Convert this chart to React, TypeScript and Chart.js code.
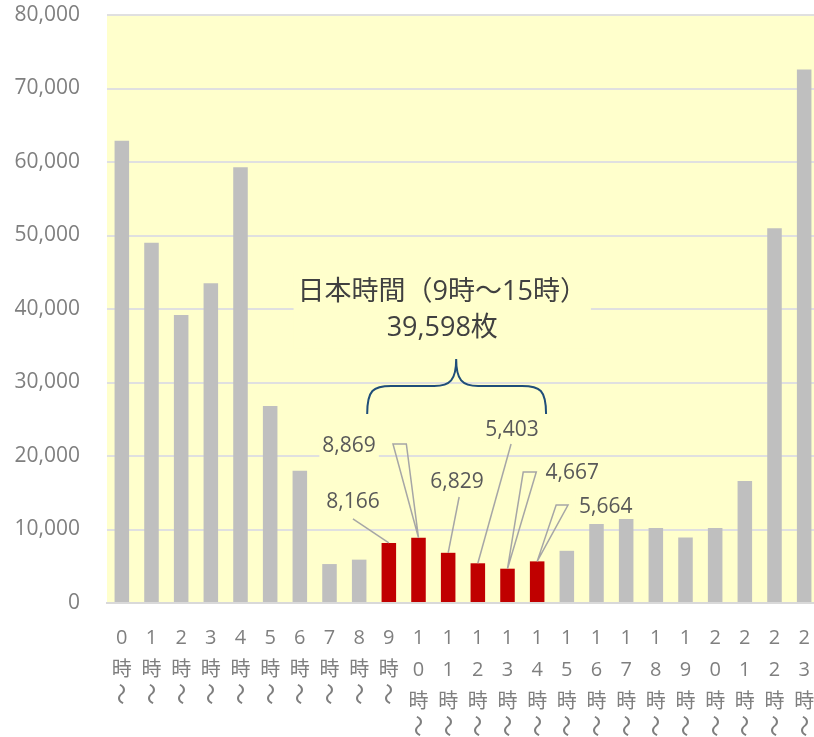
import React, { useEffect, useRef } from "react";
import { Chart, registerables } from "chart.js";

Chart.register(...registerables);

// ---- data ----
const hourLabels = ["0","1","2","3","4","5","6","7","8","9","10","11","12","13","14","15","16","17","18","19","20","21","22","23"];
const values = [62900, 49000, 39200, 43500, 59300, 26800, 18000, 5300, 5900, 8166, 8869, 6829, 5403, 4667, 5664, 7100, 10750, 11700, 10200, 8900, 10200, 16600, 51000, 72600];
const highlightHours = [9, 10, 11, 12, 13, 14];
const yTicks = [0, 10000, 20000, 30000, 40000, 50000, 60000, 70000, 80000];
const hourSuffix = "時";
const rangeMark = "〜";
const annotationLine1 = "日本時間（9時～15時）";
const annotationLine2 = "39,598枚";

// label positions (category index, value) and leader anchors
const labelIdx = [9, 10, 11, 12, 13, 14];
const labelTextPos = [[7.79, 13740], [7.66, 21360], [11.30, 16460], [13.15, 23540], [15.18, 17690], [16.31, 13060]];
const labelLeaderTops = [
  [[7.79, 11430]],
  [[9.14, 21630], [9.59, 21630]],
  [[11.37, 14420]],
  [[13.12, 21630]],
  [[13.53, 17820], [13.97, 17820]],
  [[14.64, 13330], [15.04, 13330]],
];
const bracePos = { left: 8.27, mid: 11.27, right: 14.30, bottom: 25710, bar: 29520, tip: 33200 };
const annotationPos = { x: 10.80, y1: 42240, y2: 37410 };

const FONT = "'Open Sans', 'Noto Sans CJK JP', sans-serif";
const CJK = "'Noto Sans CJK JP', sans-serif";
const PLOT_BG = "#FFFFCC";
const TICK_SIZE = 20;
const TICK_LH = 32;
const TICK_PAD = 19;

const tickLabels = hourLabels.map((h) => [...h.split(""), hourSuffix]);

const overlayPlugin = {
  id: "overlay",
  beforeDraw(chart: any) {
    const { ctx, chartArea } = chart;
    ctx.save();
    ctx.fillStyle = PLOT_BG;
    ctx.fillRect(chartArea.left, chartArea.top, chartArea.right - chartArea.left, chartArea.bottom - chartArea.top);
    ctx.restore();
  },
  afterDraw(chart: any) {
    const { ctx } = chart;
    const xs = chart.scales.x;
    ctx.save();
    ctx.font = `22px ${CJK}`;
    ctx.fillStyle = "#7F7F7F";
    ctx.textAlign = "center";
    ctx.textBaseline = "middle";
    hourLabels.forEach((h, i) => {
      const x = xs.getPixelForTick(i);
      const n = h.length + 1;
      const y = xs.top + TICK_PAD + TICK_LH * (n + 0.5) - 8;
      ctx.save();
      ctx.translate(x, y);
      ctx.rotate(Math.PI / 2);
      ctx.scale(1, 1.15);
      ctx.fillText(rangeMark, 0, 0);
      ctx.restore();
    });
    ctx.restore();
  },
  afterDatasetsDraw(chart: any) {
    const { ctx } = chart;
    const xs = chart.scales.x;
    const ys = chart.scales.y;
    const px = (v: number) => xs.getPixelForValue(v);
    const py = (v: number) => ys.getPixelForValue(v);
    ctx.save();
    // leaders
    ctx.strokeStyle = "#A6A6A6";
    ctx.lineWidth = 1.5;
    labelIdx.forEach((bi, i) => {
      const bx = px(bi);
      const by = py(values[bi]);
      const tops = labelLeaderTops[i];
      ctx.beginPath();
      ctx.moveTo(bx, by);
      if (tops.length === 1) {
        ctx.lineTo(px(tops[0][0]), py(tops[0][1]));
      } else {
        ctx.lineTo(px(tops[0][0]), py(tops[0][1]));
        ctx.lineTo(px(tops[1][0]), py(tops[1][1]));
        ctx.closePath();
      }
      ctx.stroke();
    });
    // labels
    ctx.font = `21px ${FONT}`;
    ctx.textAlign = "center";
    ctx.textBaseline = "middle";
    labelIdx.forEach((bi, i) => {
      const t = values[bi].toLocaleString("en-US");
      const x = px(labelTextPos[i][0]);
      const y = py(labelTextPos[i][1]);
      const w = ctx.measureText(t).width;
      ctx.fillStyle = PLOT_BG;
      ctx.fillRect(x - w / 2 - 3, y - 12, w + 6, 24);
      ctx.fillStyle = "#595959";
      ctx.fillText(t, x, y);
    });
    // annotation
    ctx.font = `27px ${FONT}`;
    const ax = px(annotationPos.x);
    const ay1 = py(annotationPos.y1);
    const ay2 = py(annotationPos.y2);
    const w1 = ctx.measureText(annotationLine1).width;
    ctx.fillStyle = PLOT_BG;
    ctx.fillRect(ax - w1 / 2 - 4, ay1 - 20, w1 + 8, ay2 - ay1 + 40);
    ctx.fillStyle = "#404040";
    ctx.fillText(annotationLine1, ax, ay1);
    ctx.fillText(annotationLine2, ax, ay2);
    // brace
    const L = px(bracePos.left), M = px(bracePos.mid), R = px(bracePos.right);
    const B = py(bracePos.bottom), H = py(bracePos.bar), T = py(bracePos.tip);
    ctx.strokeStyle = "#1F4E79";
    ctx.lineWidth = 2;
    ctx.beginPath();
    ctx.moveTo(L, B);
    ctx.bezierCurveTo(L, H + 4, L + 6, H, L + 24, H);
    ctx.lineTo(M - 22, H);
    ctx.bezierCurveTo(M - 6, H, M, H - 6, M, T);
    ctx.bezierCurveTo(M, H - 6, M + 6, H, M + 22, H);
    ctx.lineTo(R - 24, H);
    ctx.bezierCurveTo(R - 6, H, R, H + 4, R, B);
    ctx.stroke();
    ctx.restore();
  },
};

export default function App() {
  const ref = useRef<HTMLCanvasElement | null>(null);
  useEffect(() => {
    if (!ref.current) return;
    const chart = new Chart(ref.current, {
      type: "bar",
      data: {
        labels: tickLabels,
        datasets: [
          {
            data: values,
            backgroundColor: values.map((_, i) => (highlightHours.includes(i) ? "#C00000" : "#BFBFBF")),
            barPercentage: 0.49,
            categoryPercentage: 1,
          },
        ],
      },
      options: {
        animation: false,
        responsive: false,
        maintainAspectRatio: false,
        layout: { padding: { top: 15, left: 0, right: 0, bottom: 0 } },
        plugins: { legend: { display: false }, tooltip: { enabled: false } },
        scales: {
          x: {
            grid: { display: false, drawTicks: false },
            border: { display: true, color: "#D9D9D9", width: 2 },
            ticks: { font: { family: FONT, size: TICK_SIZE, lineHeight: TICK_LH / TICK_SIZE }, color: "#7F7F7F", padding: TICK_PAD, maxRotation: 0, minRotation: 0, autoSkip: false },
            afterFit: (s: any) => { s.height = 134; s.paddingLeft = 0; s.paddingRight = 0; },
          },
          y: {
            min: yTicks[0],
            max: yTicks[yTicks.length - 1],
            afterBuildTicks: (s: any) => { s.ticks = yTicks.map((v) => ({ value: v })); },
            ticks: { font: { family: FONT, size: 21 }, color: "#7F7F7F", padding: 27, callback: (v: any) => Number(v).toLocaleString("en-US") },
            grid: { color: "#E0E0E0", lineWidth: 2, drawTicks: false },
            border: { display: false },
            afterFit: (s: any) => { s.width = 107; s.paddingTop = 0; s.paddingBottom = 0; },
          },
        },
      },
      plugins: [overlayPlugin],
    });
    return () => chart.destroy();
  }, []);
  return (
    <div style={{ position: "fixed", left: 0, top: 0, width: 814, height: 737, overflow: "hidden", background: "#fff" }}>
      <canvas ref={ref} width={819} height={737} style={{ display: "block", width: 819, height: 737 }} />
    </div>
  );
}
